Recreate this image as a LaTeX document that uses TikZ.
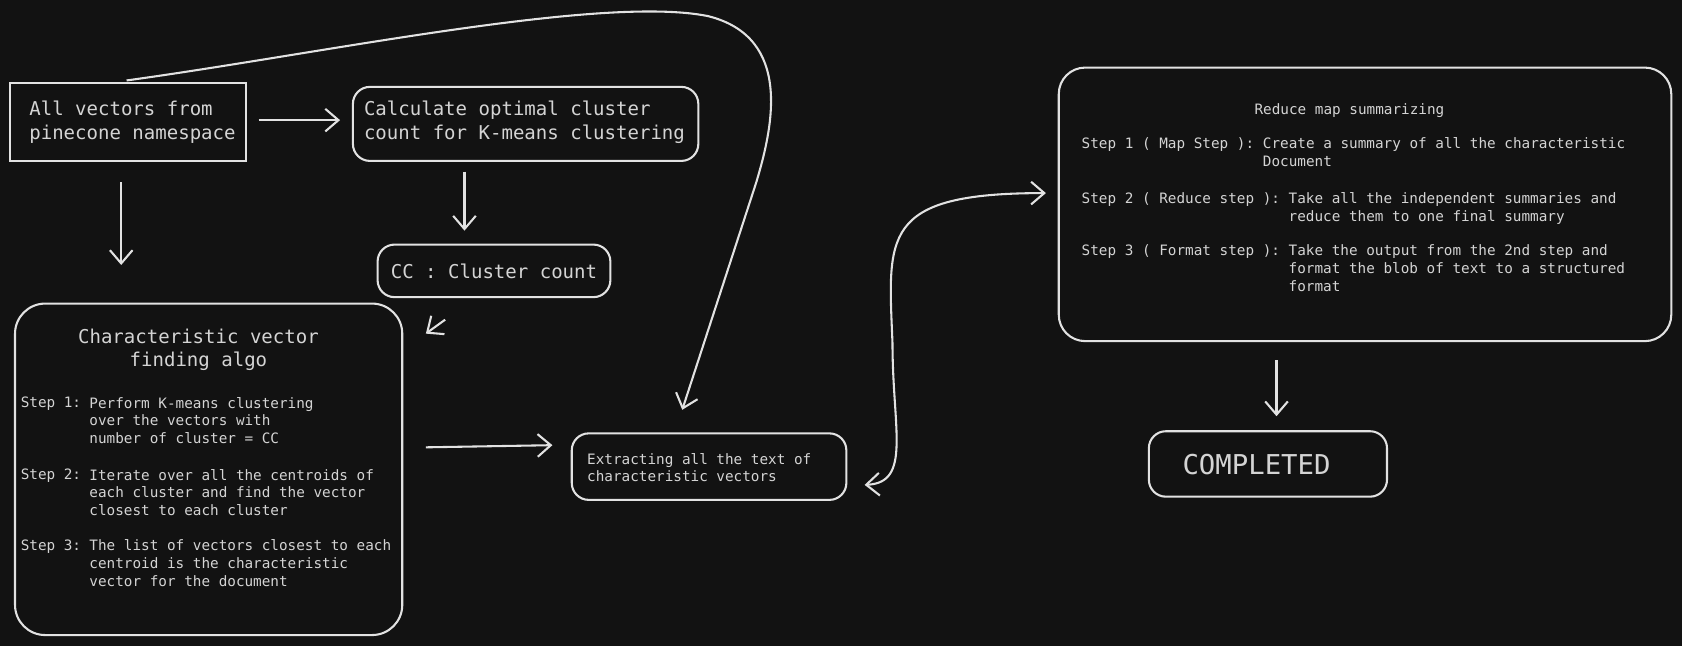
\documentclass[tikz,border=0pt]{standalone}
\usepackage{fontspec}
\setmonofont{DejaVu Sans Mono}
\usetikzlibrary{arrows.meta}
\definecolor{bg}{HTML}{121212}
\definecolor{ln}{HTML}{E2E2E2}
\definecolor{tx}{HTML}{D4D4D4}
\begin{document}
\begin{tikzpicture}[x=0.02cm,y=-0.02cm,
  box/.style={draw=ln,line width=1.1pt},
  rbox/.style={draw=ln,line width=1.1pt,rounded corners=9pt},
  big/.style={text=tx,font=\ttfamily\fontsize{10.1}{12.6}\selectfont,align=left,inner sep=0},
  sm/.style={text=tx,font=\ttfamily\fontsize{7.6}{9.4}\selectfont,align=left,inner sep=0,anchor=north west},
  arr/.style={draw=ln,line width=1.1pt,-{Straight Barb[length=7pt,width=12pt]}},
  arr2/.style={draw=ln,line width=1.1pt,{Straight Barb[length=7pt,width=12pt]}-{Straight Barb[length=7pt,width=12pt]}}]
\fill[bg] (0,0) rectangle (1568,602);
\useasboundingbox (0,0) rectangle (1568,602);
% boxes
\draw[box] (9,77) rectangle (229,150);
\node[big,anchor=west] (a) at (27,114) {All vectors from\\pinecone namespace};
\coordinate (aN) at (118,75);
\draw[rbox] (329,81) rectangle (651,150);
\node[big,anchor=west] (b) at (339,114) {Calculate optimal cluster\\count for K-means clustering};
\draw[rbox] (352,228) rectangle (569,277);
\node[big,anchor=west] (cc) at (364,253) {CC : Cluster count};
\draw[rbox,rounded corners=16pt] (14,283) rectangle (375,592);
\node[big,align=center] (ct) at (185,326) {Characteristic vector\\finding algo};
\node[sm] (s1) at (19,370) {Step 1:};
\node[sm] (t1) at (83,370) {Perform K-means clustering\\over the vectors with\\number of cluster = CC};
\node[sm] (s2) at (19,437) {Step 2:};
\node[sm] (t2) at (83,437) {Iterate over all the centroids of\\each cluster and find the vector\\closest to each cluster};
\node[sm] (s3) at (19,503) {Step 3:};
\node[sm] (t3) at (83,503) {The list of vectors closest to each\\centroid is the characteristic\\vector for the document};
\draw[rbox] (533,404) rectangle (789,466);
\node[sm,anchor=west] (ex) at (547,436) {Extracting all the text of\\characteristic vectors};
\draw[rbox,rounded corners=14pt] (987,63) rectangle (1558,318);
\node[sm,anchor=center] (rt) at (1258,103) {Reduce map summarizing};
\node[sm] (r1) at (1008,128) {Step 1 ( Map Step ):};
\node[sm] (q1) at (1177,128) {Create a summary of all the characteristic\\Document};
\node[sm] (r2) at (1008,179) {Step 2 ( Reduce step ):};
\node[sm] (q2) at (1201,179) {Take all the independent summaries and\\reduce them to one final summary};
\node[sm] (r3) at (1008,228) {Step 3 ( Format step ):};
\node[sm] (q3) at (1201,228) {Take the output from the 2nd step and\\format the blob of text to a structured\\format};
\draw[rbox] (1071,402) rectangle (1293,463);
\node[big,anchor=west,font=\ttfamily\fontsize{14.5}{18}\selectfont] (done) at (1102,433) {COMPLETED};
% connectors
\coordinate (p1) at (241,112); \coordinate (p2) at (317,112);
\draw[arr] (p1) -- (p2);
\coordinate (p3) at (113,170); \coordinate (p4) at (113,247);
\draw[arr] (p3) -- (p4);
\coordinate (p5) at (433,160); \coordinate (p6) at (433,215);
\draw[arr] (p5) -- (p6);
\coordinate (p7) at (415,298); \coordinate (p8) at (397,311);
\draw[arr] (p7) -- (p8);
\coordinate (p9) at (397,417); \coordinate (p10) at (515,415);
\draw[arr] (p9) -- (p10);
\coordinate (q) at (636,382);
\draw[arr] (aN) .. controls (300,50) and (560,-5) .. (660,15)
  .. controls (740,35) and (720,120) .. (705,170) -- (q);
\coordinate (u1) at (806,452); \coordinate (u2) at (975,180);
\draw[arr2] (u1) .. controls (850,450) and (832,400) .. (832,320)
  .. controls (828,220) and (820,180) .. (u2);
\coordinate (v1) at (1190,336); \coordinate (v2) at (1190,388);
\draw[arr] (v1) -- (v2);
\end{tikzpicture}
\end{document}
